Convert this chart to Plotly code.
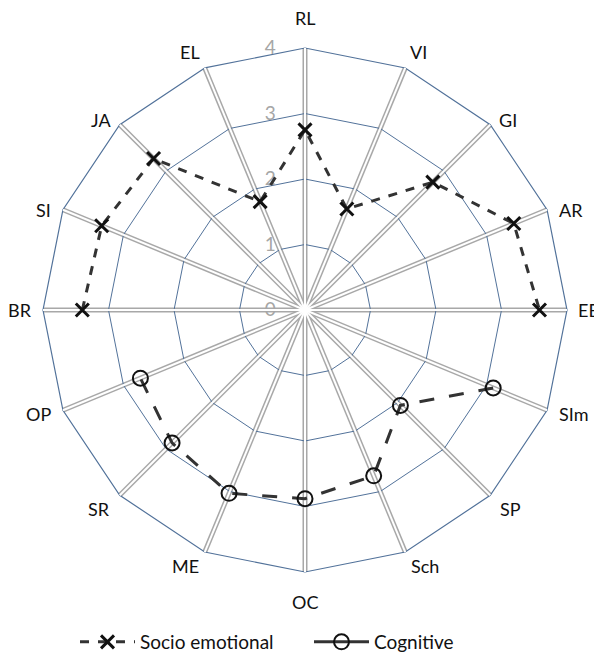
import math
import plotly.graph_objects as go

categories = ["RL", "VI", "GI", "AR", "EE", "SIm", "SP", "Sch", "OC", "ME", "SR", "OP", "BR", "SI", "JA", "EL"]
socio_emotional = [2.75, 1.67, 2.76, 3.45, 3.58, None, None, None, None, None, None, None, 3.4, 3.36, 3.27, 1.79]
cognitive = [None, None, None, None, None, 3.11, 2.06, 2.74, 2.88, 3.03, 2.87, 2.72, None, None, None, None]
radial_ticks = [0, 1, 2, 3, 4]
r_max = 4

FONT = "Lato"

def ordered(values, start):
    n = len(categories)
    th, rr = [], []
    for k in range(n):
        i = (start + k) % n
        if values[i] is not None:
            th.append(categories[i])
            rr.append(values[i])
    return th, rr

s_theta, s_r = ordered(socio_emotional, categories.index("BR"))
c_theta, c_r = ordered(cognitive, categories.index("SIm"))

fig = go.Figure()
fig.add_trace(go.Scatterpolar(r=[0] * len(categories), theta=categories, mode="markers",
                              marker=dict(opacity=0), showlegend=False, hoverinfo="skip", subplot="polar"))
fig.add_trace(go.Scatterpolar(r=[0] * len(categories), theta=categories, mode="markers",
                              marker=dict(opacity=0), showlegend=False, hoverinfo="skip", subplot="polar2"))

soc_marker = dict(symbol="x-thin", size=13, line=dict(color="#111111", width=3), color="#111111")
cog_marker = dict(symbol="circle-open", size=15, line=dict(color="#111111", width=2), color="#111111")

fig.add_trace(go.Scatterpolar(
    r=s_r, theta=s_theta, name="Socio emotional", mode="lines+markers", subplot="polar2",
    line=dict(color="#333333", width=3, dash="dash"), marker=soc_marker, showlegend=False,
))
fig.add_trace(go.Scatterpolar(
    r=c_r, theta=c_theta, name="Cognitive", mode="lines+markers", subplot="polar2",
    line=dict(color="#333333", width=3, dash="longdash"), marker=cog_marker, showlegend=False,
))
# legend entries (Excel-style legend keys)
fig.add_trace(go.Scatterpolar(r=[None], theta=[categories[0]], name="Socio emotional", mode="lines+markers",
                              subplot="polar2", line=dict(color="#333333", width=3, dash="dash"),
                              marker=soc_marker, hoverinfo="skip"))
fig.add_trace(go.Scatterpolar(r=[None], theta=[categories[0]], name="Cognitive", mode="lines+markers",
                              subplot="polar2", line=dict(color="#333333", width=3, dash="solid"),
                              marker=cog_marker, hoverinfo="skip"))

W, H = 602, 666
OFF = 8                            # page body margin in the browser
cx, cy, R = 305 - OFF, 310 - OFF, 262   # centre / outer radius in figure px
dom = dict(x=[(cx - R) / W, (cx + R) / W], y=[1 - (cy + R) / H, 1 - (cy - R) / H])

common_ang = dict(type="category", categoryarray=categories, direction="clockwise", rotation=90)

# Excel-like category label placement rules per angular step (0..8), mirrored for left side
label_rules = {
    0: ("bottom", 17, 0), 1: ("bottom", 3, 3), 2: ("middle", 5, 7), 3: ("middle", 0, 10),
    4: ("middle", 0, 9), 5: ("middle", -4, 10), 6: ("top", -1, 8), 7: ("top", -1, 4), 8: ("top", -17, 0),
}
annotations = []
n = len(categories)
for i, cat in enumerate(categories):
    ang = 2 * math.pi * i / n
    vx = cx + R * math.sin(ang)
    vy = cy - R * math.cos(ang)
    step = i if i <= n // 2 else n - i
    yanchor, yshift, gap = label_rules[step]
    s = math.sin(ang)
    if s > 0.1:
        xanchor, xshift = "left", gap
    elif s < -0.1:
        xanchor, xshift = "right", -gap
    else:
        xanchor, xshift = "center", 0
    annotations.append(dict(x=vx / W, y=1 - vy / H, xref="paper", yref="paper", text=cat, showarrow=False,
                            xanchor=xanchor, yanchor=yanchor, xshift=xshift, yshift=yshift,
                            font=dict(size=18, family=FONT, color="#111111")))

fig.update_layout(
    width=W, height=H,
    margin=dict(l=0, r=0, t=0, b=0),
    paper_bgcolor="white",
    font=dict(family=FONT, size=18, color="#111111"),
    annotations=annotations,
    polar=dict(
        domain=dom,
        gridshape="linear",
        bgcolor="white",
        radialaxis=dict(range=[0, r_max], tickvals=radial_ticks, showline=False, angle=90, tickangle=90,
                        side="counterclockwise", gridcolor="#52729a", gridwidth=1.2,
                        tickfont=dict(color="#a6a6a6", size=19, family=FONT),
                        ticks="outside", ticklen=22, tickcolor="rgba(0,0,0,0)"),
        angularaxis=dict(**common_ang, showline=True, linecolor="#52729a", linewidth=1.2,
                         gridcolor="#a8a8a8", gridwidth=4.6, showticklabels=False, ticks=""),
    ),
    polar2=dict(
        domain=dom,
        gridshape="linear",
        bgcolor="rgba(0,0,0,0)",
        radialaxis=dict(range=[0, r_max], showgrid=False, showline=False, showticklabels=False, ticks=""),
        angularaxis=dict(**common_ang, showline=False, gridcolor="white", gridwidth=2.4,
                         showticklabels=False, ticks=""),
    ),
    legend=dict(orientation="h", x=67 / W, xanchor="left", y=1 - (642 - OFF) / H, yanchor="middle",
                font=dict(size=19, family=FONT), itemwidth=55, entrywidth=164),
)

fig.write_html("out.html")
